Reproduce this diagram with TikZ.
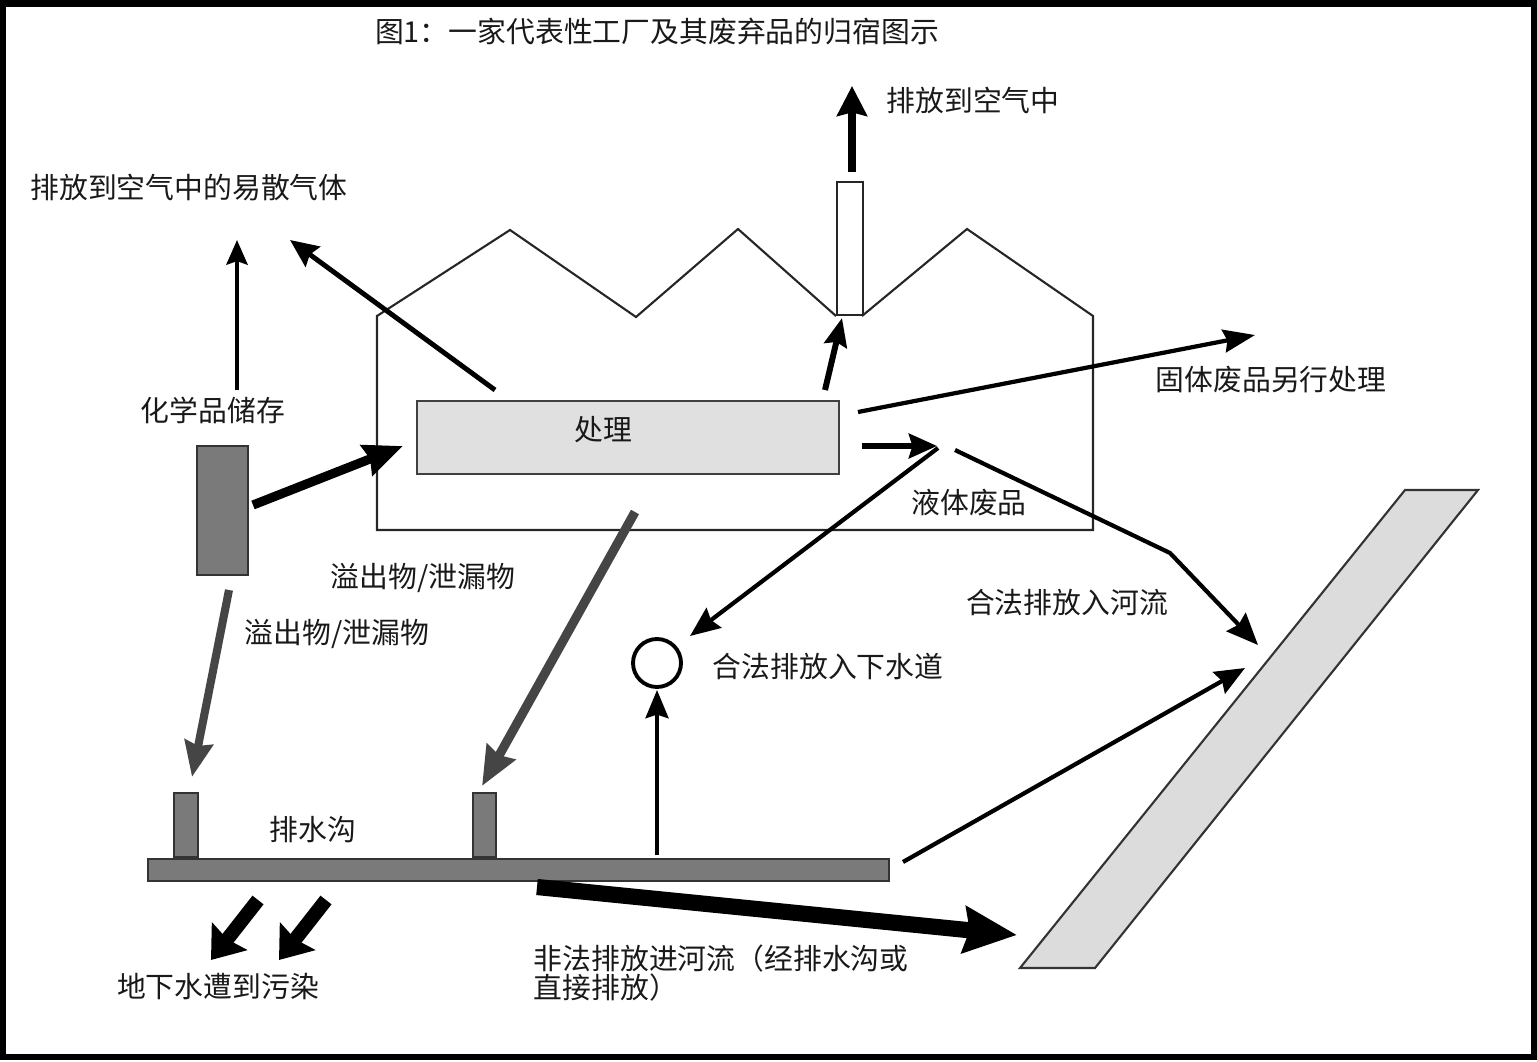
\documentclass[tikz,border=0pt]{standalone}
\usepackage{fontspec}
\setmainfont{Noto Sans CJK SC}
\usetikzlibrary{arrows.meta}
\definecolor{boxgray}{HTML}{E0E0E0}
\definecolor{darkfill}{HTML}{7A7A7A}
\definecolor{spill}{HTML}{454545}
\definecolor{rivergray}{HTML}{DCDCDC}
\begin{document}
\begin{tikzpicture}[x=0.01cm,y=-0.01cm,
  lbl/.style={font=\fontsize{8.2}{8.4}\selectfont, inner sep=0pt, text={black!90}},
  outline/.style={draw=black!85, line width=0.6pt}]
\useasboundingbox (0,0) rectangle (1537,1061);
\draw[line width=1.9pt] (3,3.5) rectangle (1534,1057);

% title
\node[lbl] (title) at (657,32) {图1：一家代表性工厂及其废弃品的归宿图示};

% factory outline
\draw[outline] (836,316) -- (738,229) -- (636,317) -- (510,230) -- (377,316)
  -- (377,530) -- (1093,530) -- (1093,316) -- (967,229) -- (862,316);
\node[outline, fill=white, minimum width=26*0.01cm, minimum height=133*0.01cm, inner sep=0pt, anchor=south west] (chimney) at (836,316) {};

% process box
\node[draw=black!75, line width=0.6pt, fill=boxgray, minimum width=422*0.01cm, minimum height=73*0.01cm, inner sep=0pt, anchor=north west] (process) at (416,400) {};
\node[lbl] (proclbl) at (603,430) {处理};

% chemical storage
\node[draw=black!80, line width=0.6pt, fill=darkfill, minimum width=51*0.01cm, minimum height=129*0.01cm, inner sep=0pt, anchor=north west] (storage) at (196,445) {};
\node[lbl] (storlbl) at (213,410) {化学品储存};

% drain
\node[draw=black!80, line width=0.6pt, fill=darkfill, minimum width=741*0.01cm, minimum height=22*0.01cm, inner sep=0pt, anchor=north west] (drain) at (147,858) {};
\node[draw=black!80, line width=0.6pt, fill=darkfill, minimum width=24*0.01cm, minimum height=64*0.01cm, inner sep=0pt, anchor=south west] (stubA) at (173,858) {};
\node[draw=black!80, line width=0.6pt, fill=darkfill, minimum width=23*0.01cm, minimum height=64*0.01cm, inner sep=0pt, anchor=south west] (stubB) at (472,858) {};
\node[lbl] (drainlbl) at (313,830) {排水沟};

% sewer circle
\node[draw=black, line width=1.1pt, circle, minimum size=48*0.01cm, inner sep=0pt] (sewer) at (657,663) {};

% river
\draw[draw=black!80, line width=0.6pt, fill=rivergray] (1405,490) coordinate (rivTL) -- (1478,490) coordinate (rivTR)
  -- (1095,968) coordinate (rivBR) -- (1020,968) coordinate (rivBL) -- cycle;

% labels
\node[lbl] (airlbl) at (973,100) {排放到空气中};
\node[lbl] (gaslbl) at (189,188) {排放到空气中的易散气体};
\node[lbl] (solidlbl) at (1271,380) {固体废品另行处理};
\node[lbl] (liqlbl) at (969,503) {液体废品};
\node[lbl] (spill1) at (423,578) {溢出物/泄漏物};
\node[lbl] (spill2) at (337,634) {溢出物/泄漏物};
\node[lbl] (riverlbl) at (1067,603) {合法排放入河流};
\node[lbl] (sewerlbl) at (828,667) {合法排放入下水道};
\node[lbl] (gwlbl) at (218,987) {地下水遭到污染};
\node[lbl, anchor=north west, align=left] (illlbl) at (533,944) {非法排放进河流（经排水沟或\\直接排放）};

% coordinates
\coordinate (chimTop) at (852,172);
\coordinate (airUp) at (852,86);
\coordinate (procTopR) at (825,390);
\coordinate (chimBase) at (842,318);
\coordinate (procTopL) at (495,390);
\coordinate (gasEnd) at (290,240);
\coordinate (storTop) at (237,390);
\coordinate (storUp) at (237,240);
\coordinate (storOut) at (253,505);
\coordinate (procIn) at (403,446);
\coordinate (storBot) at (229,590);
\coordinate (stubAtop) at (192,777);
\coordinate (procBot) at (635,512);
\coordinate (stubBtop) at (482,786);
\coordinate (drainOut) at (657,855);
\coordinate (sewerIn) at (657,690);
\coordinate (liq) at (938,448);
\coordinate (sewerIn2) at (690,636);
\coordinate (procOut) at (862,446);
\coordinate (liqIn) at (937,446);
\coordinate (liq2) at (955,450);
\coordinate (bend) at (1170,553);
\coordinate (riverIn) at (1258,645);
\coordinate (procOut2) at (858,412);
\coordinate (solidEnd) at (1255,335);
\coordinate (drainOut2) at (903,862);
\coordinate (riverIn2) at (1245,668);
\coordinate (drainOut3) at (537,887);
\coordinate (riverIn3) at (1017,935);
\coordinate (gwA1) at (258,900);
\coordinate (gwA2) at (211,960);
\coordinate (gwB1) at (326,900);
\coordinate (gwB2) at (279,960);

% arrows
\draw[line width=2.4pt, -{Stealth[inset=1pt,length=8.5pt,width=8.5pt]}] (chimTop) -- (airUp);
\draw[line width=1.7pt, -{Stealth[inset=1pt,length=8pt,width=6.5pt]}] (procTopR) -- (chimBase);
\draw[line width=1.4pt, -{Stealth[inset=1pt,length=8pt,width=7pt]}] (procTopL) -- (gasEnd);
\draw[line width=1.2pt, -{Stealth[inset=1pt,length=7pt,width=6pt]}] (storTop) -- (storUp);
\draw[line width=2.6pt, -{Stealth[inset=1pt,length=11pt,width=9pt]}] (storOut) -- (procIn);
\draw[spill, line width=2.3pt, -{Stealth[inset=1pt,length=10pt,width=8pt]}] (storBot) -- (stubAtop);
\draw[spill, line width=2.6pt, -{Stealth[inset=1pt,length=11pt,width=9pt]}] (procBot) -- (stubBtop);
\draw[line width=1.2pt, -{Stealth[inset=1pt,length=8pt,width=6.5pt]}] (drainOut) -- (sewerIn);
\draw[line width=1.2pt, -{Stealth[inset=1pt,length=8.5pt,width=7pt]}] (liq) -- (sewerIn2);
\draw[line width=1.5pt, -{Stealth[inset=1pt,length=8pt,width=7pt]}] (procOut) -- (liqIn);
\draw[line width=1.2pt, -{Stealth[inset=1pt,length=9pt,width=7.5pt]}] (liq2) -- (bend) -- (riverIn);
\draw[line width=1.2pt, -{Stealth[inset=1pt,length=9pt,width=6.5pt]}] (procOut2) -- (solidEnd);
\draw[line width=1.2pt, -{Stealth[inset=1pt,length=8.5pt,width=7pt]}] (drainOut2) -- (riverIn2);
\draw[line width=4.6pt, -{Stealth[inset=1.5pt,length=15pt,width=13pt]}] (drainOut3) -- (riverIn3);
\draw[line width=4pt, -{Stealth[inset=1pt,length=8.5pt,width=12.5pt]}] (gwA1) -- (gwA2);
\draw[line width=4pt, -{Stealth[inset=1pt,length=8.5pt,width=12.5pt]}] (gwB1) -- (gwB2);
\end{tikzpicture}
\end{document}
